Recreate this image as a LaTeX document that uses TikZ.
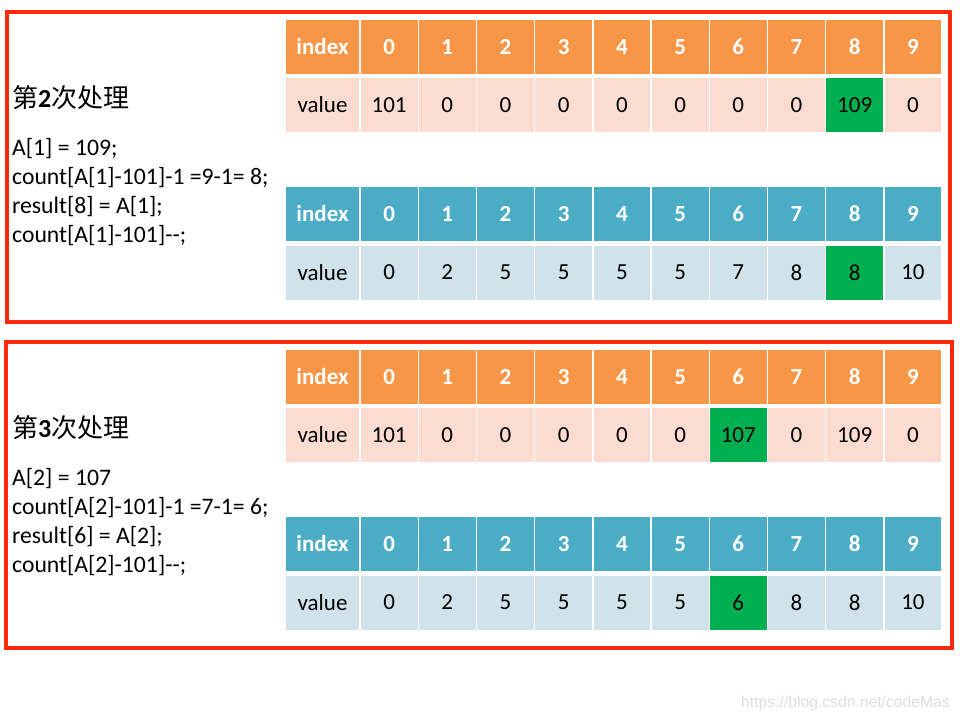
\documentclass[tikz,border=0pt]{standalone}
\usepackage{fontspec}
\setmainfont{Carlito}
\newfontfamily\cjk{Noto Sans CJK SC}
\newfontfamily\wmfont{Liberation Sans}
\definecolor{hdorange}{HTML}{F79646}
\definecolor{ltorange}{HTML}{FCDCD0}
\definecolor{hdblue}{HTML}{4BACC6}
\definecolor{ltblue}{HTML}{D1E3EA}
\definecolor{hlgreen}{HTML}{00B050}
\definecolor{frame}{HTML}{FF2A0C}
\tikzset{
  cell/.style={rectangle, inner sep=0pt, minimum width=56.8pt, minimum height=54pt, font=\fontsize{23}{27}\selectfont},
  firstcell/.style={cell, minimum width=73.6pt},
  headtext/.style={text=white, font=\fontsize{23}{27}\selectfont\bfseries},
  valtext/.style={text=black},
  redframe/.style={draw=frame, line width=4pt},
  codeline/.style={anchor=base west, inner sep=0pt, font=\fontsize{23.7}{29}\selectfont},
  titletext/.style={anchor=base west, inner sep=0pt, font=\fontsize{26}{30}\selectfont},
  watermark/.style={anchor=base east, inner sep=0pt, text=black!13, font=\wmfont\fontsize{15.7}{18}\selectfont}
}
% #1 name prefix, #2 center y of header row, #3 center y of value row,
% #4 header colour, #5 light colour, #6 values, #7 highlighted column
\newcommand{\arraytable}[7]{%
  \node[firstcell, fill=#4, headtext] (#1hI) at (322.5,#2) {index};
  \node[firstcell, fill=#5, valtext] (#1vI) at (322.5,#3) {value};
  \foreach \k in {0,...,9} {
    \node[cell, fill=#4, headtext] (#1h\k) at ({389.1+58.2*\k},#2) {\k};
  }
  \foreach \v [count=\i from 0] in {#6} {
    \ifnum\i=#7 \def\cf{hlgreen}\else\def\cf{#5}\fi
    \node[cell, fill=\cf, valtext] (#1v\i) at ({389.1+58.2*\i},#3) {\v};
  }%
}
\begin{document}
\begin{tikzpicture}[x=1pt,y=-1pt]
\useasboundingbox (0,0) rectangle (960,720);
\fill[white] (0,0) rectangle (960,720);

% ---------- step 2 ----------
\node[redframe, rectangle, inner sep=0pt, minimum width=943pt, minimum height=310pt] (box1) at (478.5,167) {};
\node[titletext] (title1) at (12,107) {{\cjk 第}\textbf{2}{\cjk 次处理}};
\node[codeline] (c1a) at (12,155) {A[1] = 109;};
\node[codeline] (c1b) at (12,184) {count[A[1]-101]-1 =9-1= 8;};
\node[codeline] (c1c) at (12,213) {result[8] = A[1];};
\node[codeline] (c1d) at (12,242) {count[A[1]-101]-{}-;};
\arraytable{a}{47}{105}{hdorange}{ltorange}{101,0,0,0,0,0,0,0,109,0}{8}
\arraytable{b}{214}{272.5}{hdblue}{ltblue}{0,2,5,5,5,5,7,8,8,10}{8}

% ---------- step 3 ----------
\node[redframe, rectangle, inner sep=0pt, minimum width=946pt, minimum height=306pt] (box2) at (479,495) {};
\node[titletext] (title2) at (12,437) {{\cjk 第}\textbf{3}{\cjk 次处理}};
\node[codeline] (c2a) at (12,485) {A[2] = 107};
\node[codeline] (c2b) at (12,514) {count[A[2]-101]-1 =7-1= 6;};
\node[codeline] (c2c) at (12,543) {result[6] = A[2];};
\node[codeline] (c2d) at (12,572) {count[A[2]-101]-{}-;};
\arraytable{c}{377}{435}{hdorange}{ltorange}{101,0,0,0,0,0,107,0,109,0}{6}
\arraytable{d}{544}{602.5}{hdblue}{ltblue}{0,2,5,5,5,5,6,8,8,10}{6}

\node[watermark] (wm) at (950,707) {https://blog.csdn.net/codeMas};
\end{tikzpicture}
\end{document}
